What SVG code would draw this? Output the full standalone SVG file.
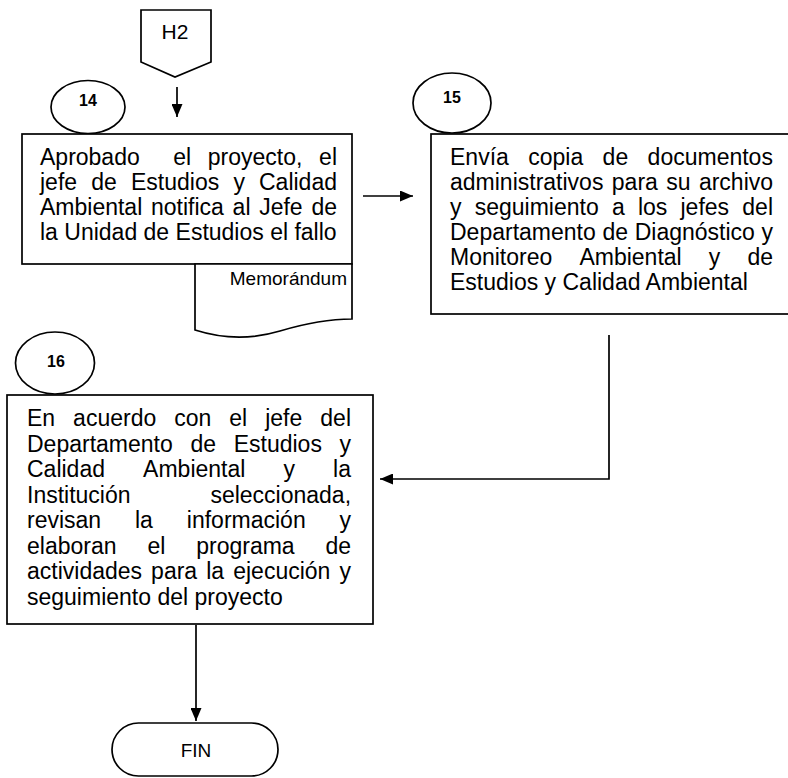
<svg xmlns="http://www.w3.org/2000/svg" width="788" height="778" viewBox="0 0 788 778">
<defs>
<style>
.s{fill:#fff;stroke:#000;stroke-width:1.7}
.c{fill:none;stroke:#000;stroke-width:1.7}
.t{font-family:"Liberation Sans",Arial,sans-serif;font-size:23px;fill:#000}
.n{font-family:"Liberation Sans",Arial,sans-serif;font-size:16px;font-weight:bold;fill:#000;text-anchor:middle}
.m{font-family:"Liberation Sans",Arial,sans-serif;font-size:19px;fill:#000}
</style>
<marker id="ah" viewBox="0 0 13 11" refX="13" refY="5.5" markerWidth="13" markerHeight="11" markerUnits="userSpaceOnUse" orient="auto">
<path d="M0,0 L13,5.5 L0,11 Z" fill="#000"/>
</marker>
</defs>
<rect width="788" height="778" fill="#fff"/>

<g id="connectors">
<line class="c" x1="177" y1="87" x2="177" y2="117" marker-end="url(#ah)"/>
<line class="c" x1="363" y1="196" x2="413" y2="196" marker-end="url(#ah)"/>
<polyline class="c" points="609,335 609,479 380,479" marker-end="url(#ah)"/>
<line class="c" x1="196" y1="625" x2="196" y2="721" marker-end="url(#ah)"/>
</g>

<g id="h2">
<path class="s" d="M141,10 H211 V62 L175,77 L141,62 Z"/>
<text class="t" x="175" y="39" text-anchor="middle" style="font-size:21px">H2</text>
</g>

<g id="n14">
<ellipse class="s" cx="88" cy="107" rx="37" ry="26.5"/>
<text class="n" x="88" y="106">14</text>
</g>

<g id="box14">
<rect class="s" x="22" y="134" width="330" height="130"/>
<text class="t" y="165"><tspan x="40">Aprobado</tspan><tspan x="173.2">el</tspan><tspan x="207.8">proyecto,</tspan><tspan x="319.1">el</tspan></text>
<text class="t" y="190"><tspan x="40">jefe</tspan><tspan x="91.3">de</tspan><tspan x="131">Estudios</tspan><tspan x="233.4">y</tspan><tspan x="259">Calidad</tspan></text>
<text class="t" y="215"><tspan x="40">Ambiental</tspan><tspan x="151">notifica</tspan><tspan x="232.6">al</tspan><tspan x="259.2">Jefe</tspan><tspan x="311.4">de</tspan></text>
<text class="t" x="40" y="240">la Unidad de Estudios el fallo</text>
</g>

<g id="doc14">
<path class="s" d="M195,264 H352 V319 C330,319 310,322 280,331 C250,340 220,338 195,330 Z"/>
<text class="m" x="347" y="285" text-anchor="end">Memorándum</text>
</g>

<g id="n15">
<ellipse class="s" cx="452" cy="103" rx="39" ry="30"/>
<text class="n" x="452" y="103">15</text>
</g>

<g id="box15">
<rect class="s" x="431" y="134" width="362" height="180"/>
<text class="t" y="165"><tspan x="450">Envía</tspan><tspan x="528.2">copia</tspan><tspan x="602.6">de</tspan><tspan x="647.6">documentos</tspan></text>
<text class="t" y="190"><tspan x="450">administrativos</tspan><tspan x="611.8">para</tspan><tspan x="666.2">su</tspan><tspan x="698.9">archivo</tspan></text>
<text class="t" y="215"><tspan x="450">y</tspan><tspan x="474.7">seguimiento</tspan><tspan x="611.9">a</tspan><tspan x="637.9">los</tspan><tspan x="680.5">jefes</tspan><tspan x="742.3">del</tspan></text>
<text class="t" y="240"><tspan x="450">Departamento</tspan><tspan x="602.4">de</tspan><tspan x="634.7">Diagnóstico</tspan><tspan x="761.5">y</tspan></text>
<text class="t" y="265"><tspan x="450">Monitoreo</tspan><tspan x="579.4">Ambiental</tspan><tspan x="708.8">y</tspan><tspan x="747.4">de</tspan></text>
<text class="t" x="450" y="290">Estudios y Calidad Ambiental</text>
</g>

<g id="n16">
<ellipse class="s" cx="55" cy="363" rx="39.5" ry="31"/>
<text class="n" x="56" y="367">16</text>
</g>

<g id="box16">
<rect class="s" x="7" y="395" width="366" height="229"/>
<text class="t" y="426"><tspan x="27">En</tspan><tspan x="73.1">acuerdo</tspan><tspan x="174.2">con</tspan><tspan x="229.3">el</tspan><tspan x="265.2">jefe</tspan><tspan x="320.3">del</tspan></text>
<text class="t" y="451.5"><tspan x="27">Departamento</tspan><tspan x="190.4">de</tspan><tspan x="233.7">Estudios</tspan><tspan x="339.5">y</tspan></text>
<text class="t" y="477"><tspan x="27">Calidad</tspan><tspan x="143.1">Ambiental</tspan><tspan x="283.5">y</tspan><tspan x="333.1">la</tspan></text>
<text class="t" y="502.5"><tspan x="27">Institución</tspan><tspan x="210.4">seleccionada,</tspan></text>
<text class="t" y="528"><tspan x="27">revisan</tspan><tspan x="135">la</tspan><tspan x="186.8">información</tspan><tspan x="339.6">y</tspan></text>
<text class="t" y="553.5"><tspan x="27">elaboran</tspan><tspan x="147.4">el</tspan><tspan x="196.2">programa</tspan><tspan x="325.5">de</tspan></text>
<text class="t" y="579"><tspan x="27">actividades</tspan><tspan x="151.1">para</tspan><tspan x="206.2">la</tspan><tspan x="233.2">ejecución</tspan><tspan x="339.5">y</tspan></text>
<text class="t" x="27" y="604.5">seguimiento del proyecto</text>
</g>

<g id="fin">
<rect class="s" x="112" y="723" width="166" height="53" rx="26.5" ry="26.5"/>
<text class="t" x="196" y="757" text-anchor="middle" style="font-size:19px">FIN</text>
</g>
</svg>
